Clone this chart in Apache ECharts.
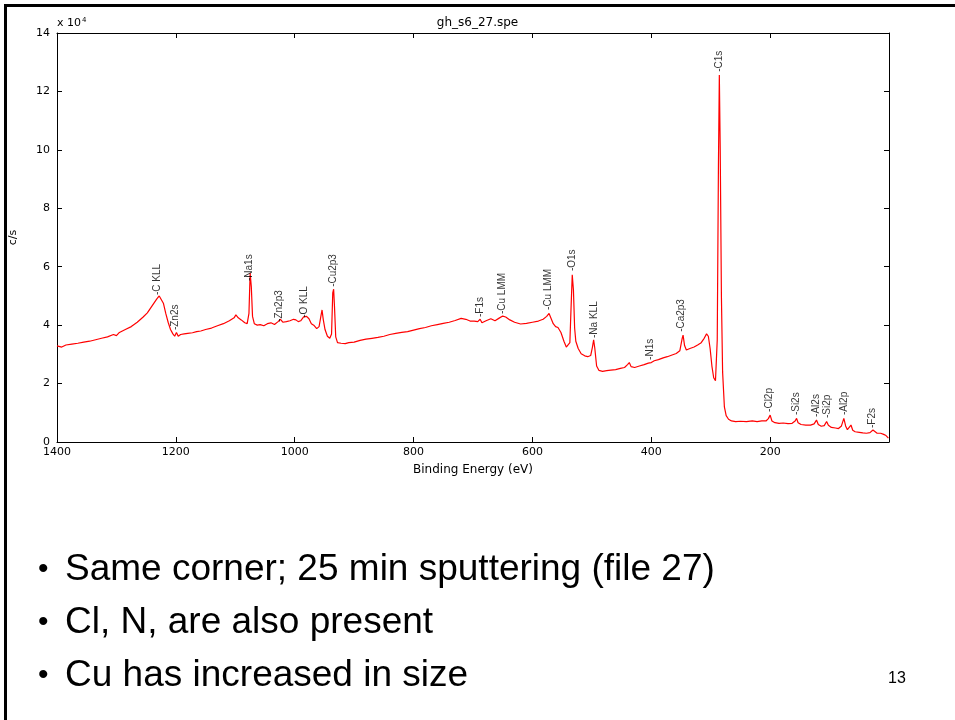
<!DOCTYPE html>
<html>
<head>
<meta charset="utf-8">
<script src="https://cdn.jsdelivr.net/npm/echarts@6/dist/echarts.min.js"></script>
<style>
html,body{margin:0;padding:0;background:#fff;}
#chart{width:955px;height:720px;}
</style>
</head>
<body>
<div id="chart"></div>
<script>
// Spectrum: binding energy (eV) and counts (x 10^4 c/s)
var bindingEnergy = [1400,1392,1385,1375,1365,1355,1345,1335,1325,1315,1305,1300,1295,1285,1275,1265,1255,1248,1242,1236,1232,1228,1225,1221,1217,1213,1209,1205,1202,1199,1196,1192,1186,1180,1172,1165,1158,1150,1140,1130,1120,1110,1102,1099,1095,1090,1084,1080,1077,1075,1073,1071,1068,1063,1058,1052,1046,1040,1034,1028,1024,1020,1014,1008,1002,998,994,990,985,980,976,972,968,963,959,956,954,952,949,945,941,938,936,934.5,933,931,928,922,915,909,900,890,880,870,860,850,840,830,820,810,800,790,780,770,760,750,740,730,720,712,705,698,692,688,685,678,670,663,656,650,645,638,630,620,610,600,590,582,576,572,569,565,561,557,552,547,543,540,537,535,533,531,529,527,523,518,512,507,502,499,497,495,492,488,482,475,468,460,452,445,440,437,434,428,420,412,405,400,395,388,380,373,365,358,352,348,346.5,344,341,335,328,322,316,311,307,304,301,298,295,292,289,287,285.5,284,282,280,277,274,270,265,258,250,240,230,222,214,207,203,200,197,192,185,178,170,163,158,155.5,153,148,140,132,126,122,119,114,109,105,102,97,90,85,80,76,73,70,67,64,61,57,50,44,38,32,27,24,20,14,9,5,1];
var counts = [3.29,3.25,3.32,3.35,3.38,3.42,3.45,3.50,3.55,3.60,3.68,3.64,3.75,3.85,3.95,4.10,4.28,4.42,4.60,4.78,4.90,5.00,4.98,4.75,4.40,4.10,3.85,3.70,3.62,3.75,3.62,3.68,3.70,3.72,3.74,3.78,3.80,3.85,3.90,3.98,4.05,4.15,4.25,4.35,4.25,4.18,4.08,4.05,4.40,5.78,5.30,4.30,4.05,4.00,4.02,3.98,4.05,4.08,4.02,4.12,4.20,4.10,4.12,4.15,4.20,4.18,4.12,4.15,4.28,4.30,4.22,4.05,4.00,3.88,3.95,4.30,4.52,4.20,3.85,3.62,3.55,3.70,5.10,5.23,4.60,3.60,3.40,3.38,3.37,3.40,3.42,3.48,3.52,3.55,3.58,3.62,3.68,3.72,3.75,3.78,3.83,3.88,3.92,3.98,4.02,4.06,4.10,4.16,4.23,4.20,4.14,4.14,4.12,4.20,4.08,4.15,4.22,4.15,4.24,4.31,4.28,4.18,4.10,4.04,4.06,4.10,4.14,4.20,4.30,4.40,4.35,4.05,3.95,3.92,3.75,3.45,3.25,3.20,3.40,4.60,5.72,5.20,3.90,3.45,3.20,3.02,2.95,2.92,2.96,3.25,3.50,3.20,2.60,2.45,2.42,2.44,2.46,2.48,2.52,2.55,2.65,2.72,2.58,2.55,2.60,2.65,2.70,2.72,2.78,2.82,2.88,2.92,2.98,3.03,3.12,3.55,3.66,3.30,3.15,3.20,3.25,3.32,3.40,3.55,3.70,3.62,3.20,2.60,2.20,2.10,3.50,9.50,12.56,10.0,5.0,2.40,1.20,0.90,0.78,0.72,0.70,0.71,0.70,0.72,0.70,0.72,0.72,0.80,0.92,0.72,0.66,0.64,0.65,0.63,0.64,0.72,0.81,0.66,0.60,0.58,0.58,0.62,0.75,0.60,0.54,0.56,0.70,0.57,0.50,0.48,0.46,0.55,0.81,0.55,0.42,0.45,0.58,0.40,0.35,0.33,0.31,0.30,0.32,0.41,0.36,0.30,0.30,0.26,0.22,0.13];

// Peak annotations
var peakNames = ['-C KLL','-Zn2s','-Na1s','-Zn2p3','-O KLL','-Cu2p3','-F1s','-Cu LMM','-Cu LMM','-O1s','-Na KLL','-N1s','-Ca2p3','-C1s','-Cl2p','-Si2s','-Al2s','-Si2p','-Al2p','-F2s'];
var peakEnergy = [1230.7,1200.6,1076.6,1026.3,984.4,935.8,687.8,650.9,573.8,533.6,496.7,401.2,349.2,285.6,201.7,156.5,123,104.6,76.1,27.5];
var peakLevel = [5.03,3.83,5.51,4.11,4.25,5.31,4.28,4.38,4.52,5.85,3.56,2.81,3.77,12.67,1.03,0.92,0.86,0.82,0.92,0.48];

var xTicks = [1400,1200,1000,800,600,400,200];
var yTicks = [0,2,4,6,8,10,12,14];

var bullets = ['Same corner; 25 min sputtering (file 27)','Cl, N, are also present','Cu has increased in size'];

var chart = echarts.init(document.getElementById('chart'), null, {renderer:'canvas'});
var FONT = 'Liberation Sans, Arial, sans-serif';
var AXFONT = 'DejaVu Sans, sans-serif';

var lineData = bindingEnergy.map(function(e,i){return [e, counts[i]];});
var labelData = peakEnergy.map(function(e,i){return {name:peakNames[i], value:[e, peakLevel[i]]};});

function axisCommon(){
  return {
    axisLine:{show:true, onZero:false, lineStyle:{color:'#000', width:1}},
    axisTick:{show:true, inside:true, length:5, lineStyle:{color:'#000'}},
    splitLine:{show:false}
  };
}

var graphics = [
  {type:'rect', shape:{x:4, y:4, width:951, height:3}, style:{fill:'#000'}},
  {type:'rect', shape:{x:4, y:4, width:3, height:716}, style:{fill:'#000'}},
  {type:'text', left:888, top:671, style:{text:'13', font:'16px '+FONT, fill:'#000'}}
];
bullets.forEach(function(b,i){
  var y = 551 + i*53;
  graphics.push({type:'text', left:38, top:y+4, style:{text:'\u2022', font:'30px '+FONT, fill:'#000'}});
  graphics.push({type:'text', left:65, top:y, style:{text:b, font:'37px '+FONT, fill:'#000'}});
});

chart.setOption({
  animation:false,
  backgroundColor:'#fff',
  textStyle:{fontFamily:FONT},
  title:[
    {text:'gh_s6_27.spe', left:'center', top:12, textStyle:{fontSize:12, fontWeight:'normal', color:'#000', fontFamily:AXFONT}},
    {text:'{a|x 10}{b|4}', left:52, top:12, textStyle:{fontWeight:'normal', rich:{a:{fontSize:11,color:'#000',fontWeight:'normal',fontFamily:AXFONT}, b:{fontSize:7,color:'#000',fontWeight:'normal',verticalAlign:'top',padding:[0,0,6,1],fontFamily:AXFONT}}}}
  ],
  grid:{left:54, right:66, top:33, bottom:278, containLabel:false},
  xAxis:[
    Object.assign(axisCommon(), {type:'value', min:0, max:1400, interval:200, inverse:true, position:'bottom',
      name:'Binding Energy (eV)', nameLocation:'middle', nameGap:22,
      nameTextStyle:{fontSize:12, color:'#000', fontFamily:AXFONT},
      axisLabel:{show:true, color:'#000', fontSize:11, margin:5, fontFamily:AXFONT,
        formatter:function(v){return xTicks.indexOf(v)>=0 ? String(v) : '';}}
    }),
    Object.assign(axisCommon(), {type:'value', min:0, max:1400, interval:200, inverse:true, position:'top', axisLabel:{show:false}})
  ],
  yAxis:[
    Object.assign(axisCommon(), {type:'value', min:0, max:14, interval:2, position:'left',
      name:'c/s', nameLocation:'middle', nameGap:38, nameRotate:90,
      nameTextStyle:{fontSize:11, color:'#000', fontFamily:AXFONT},
      axisLabel:{show:true, color:'#000', fontSize:11, margin:7, fontFamily:AXFONT,
        formatter:function(v){return yTicks.indexOf(v)>=0 ? String(v) : '';}}
    }),
    Object.assign(axisCommon(), {type:'value', min:0, max:14, interval:2, position:'right', axisLabel:{show:false}})
  ],
  series:[
    {type:'line', data:lineData, showSymbol:false, symbol:'none', lineStyle:{color:'#ff0000', width:1.2}, xAxisIndex:0, yAxisIndex:0, silent:true, z:3},
    {type:'scatter', data:labelData, symbolSize:0, xAxisIndex:0, yAxisIndex:0, silent:true, z:4,
      label:{show:true, formatter:'{b}', rotate:90, position:[0,0], align:'left', verticalAlign:'middle', fontSize:10, color:'#000', fontFamily:FONT}}
  ],
  graphic:graphics
});
</script>
</body>
</html>
